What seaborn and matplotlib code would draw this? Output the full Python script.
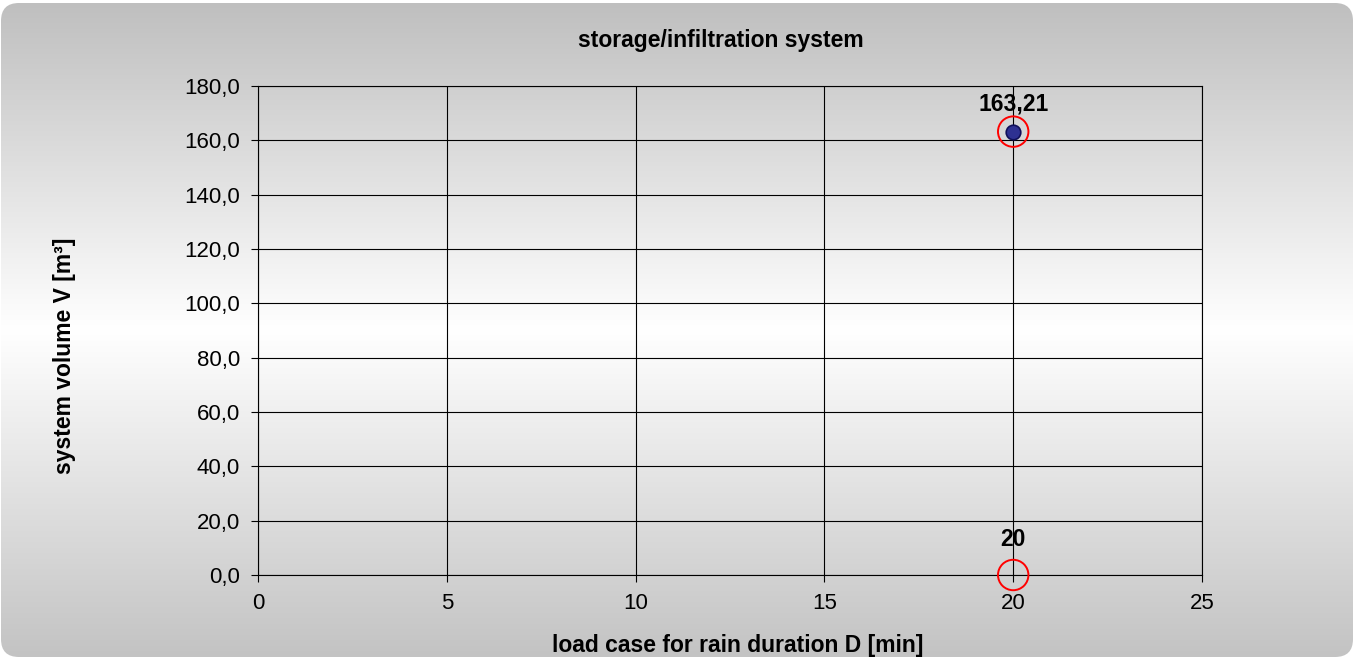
import numpy as np
import pandas as pd
import matplotlib
matplotlib.use('Agg')
import matplotlib.pyplot as plt
from matplotlib.patches import FancyBboxPatch
from matplotlib.ticker import FuncFormatter
import seaborn as sns

# data
durations = [20]            # load case D [min]
volumes = [163.21]          # system volume V [m³]
mark_x = [20, 20]           # red highlight circles
mark_y = [163.21, 0.0]
label_texts = ['163,21', '20']

sns.set_style('white')
plt.rcParams['font.family'] = ['Liberation Sans', 'DejaVu Sans']
plt.rcParams['text.color'] = 'black'
plt.rcParams['axes.labelcolor'] = 'black'
plt.rcParams['xtick.color'] = 'black'
plt.rcParams['ytick.color'] = 'black'

fig = plt.figure(figsize=(13.55, 6.58), dpi=100)
fig.patch.set_facecolor('white')

# background panel with vertical gradient and rounded corners
bg = fig.add_axes([0, 0, 1, 1], zorder=-10)
bg.set_xlim(0, 1355)
bg.set_ylim(658, 0)
bg.axis('off')
yy = np.linspace(0, 1, 300)
top, mid, bot = 0.75, 1.0, 0.765
col = np.where(yy < 0.5, top + (mid - top) * (yy / 0.5), mid + (bot - mid) * ((yy - 0.5) / 0.5))
grad = np.repeat(col[:, None], 2, axis=1)
im = bg.imshow(np.dstack([grad, grad, grad]), extent=[1, 1353, 657, 3], aspect='auto', zorder=0)
box = FancyBboxPatch((1 + 18, 3 + 18), 1352 - 36, 654 - 36, boxstyle='round,pad=18',
                     facecolor='none', edgecolor='none', transform=bg.transData)
bg.add_patch(box)
im.set_clip_path(box)

ax = fig.add_axes([258 / 1355, 83 / 658, 944 / 1355, 489 / 658])
ax.set_facecolor('none')

df = pd.DataFrame({'D': durations, 'V': volumes})
sns.scatterplot(data=df, x='D', y='V', ax=ax, s=110, color='#2E3192',
                edgecolor='#10105a', linewidth=1.2, zorder=5, legend=False)
ax.scatter(mark_x, mark_y, s=480, facecolors='none', edgecolors='red', linewidths=1.4,
           zorder=6, clip_on=False)

offsets = [28, 35]
for x, y, t, off in zip(mark_x, mark_y, label_texts, offsets):
    ax.annotate(t, (x, y), xytext=(0, off * 0.72), textcoords='offset points',
                ha='center', va='center', fontsize=16.5, fontweight='bold', zorder=7)

ax.set_xlim(0, 25)
ax.set_ylim(0, 180)
ax.set_xticks(np.arange(0, 26, 5))
ax.set_yticks(np.arange(0, 181, 20))
ax.yaxis.set_major_formatter(FuncFormatter(lambda v, p: f'{v:.1f}'.replace('.', ',')))
ax.grid(True, color='black', linewidth=0.8)
ax.set_axisbelow(True)
for s in ax.spines.values():
    s.set_color('black')
    s.set_linewidth(0.8)
ax.tick_params(direction='out', length=5, width=0.8, labelsize=16,
               left=True, bottom=True)
ax.tick_params(axis='y', pad=8)
ax.tick_params(axis='x', pad=8)

ax.set_title('storage/infiltration system', fontsize=16.5, fontweight='bold', pad=28, x=0.49)
ax.set_xlabel('load case for rain duration D [min]', fontsize=16.5, fontweight='bold')
ax.set_ylabel('system volume V [m³]', fontsize=16.5, fontweight='bold')
ax.xaxis.set_label_coords(0.508, -0.12)
ax.yaxis.set_label_coords(-0.193, 0.448)

fig.savefig('out.png', dpi=100)
